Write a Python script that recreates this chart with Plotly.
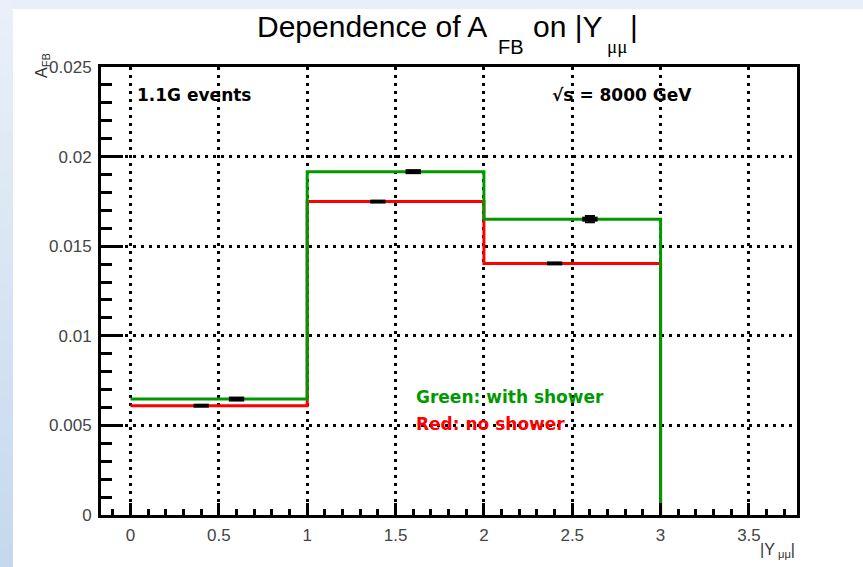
import plotly.graph_objects as go

# ---------------- data ----------------
bin_edges = [0, 1, 2, 3]
green_vals = [0.00647, 0.01916, 0.01651]      # with shower
red_vals = [0.00610, 0.01749, 0.01404]        # no shower
green_pt_x = [0.6, 1.6, 2.6]
green_pt_y = [0.00647, 0.01916, 0.01651]
green_pt_err = [0.00005, 0.00005, 0.00017]
red_pt_x = [0.4, 1.4, 2.4]
red_pt_y = [0.00610, 0.01749, 0.01404]
red_pt_err = [0.00003, 0.00003, 0.00003]
x_ticks = [0, 0.5, 1, 1.5, 2, 2.5, 3, 3.5]
x_tick_text = ["0", "0.5", "1", "1.5", "2", "2.5", "3", "3.5"]
y_ticks = [0, 0.005, 0.01, 0.015, 0.02, 0.025]
y_tick_text = ["0", "0.005", "0.01", "0.015", "0.02", "0.025"]

W, H = 863, 567
ML, MR, MT, MB = 101, 66, 67, 52
PW, PH = W - ML - MR, H - MT - MB


def px(xp):
    return (xp - ML) / PW


def py(yp):
    return (H - MB - yp) / PH


GREEN = "#009900"
RED = "#ff0000"

fig = go.Figure()

# step histograms (red below green)
fig.add_trace(go.Scatter(
    x=bin_edges, y=red_vals + [0], mode="lines", line_shape="hv",
    line=dict(color=RED, width=3), hoverinfo="skip", showlegend=False))
fig.add_trace(go.Scatter(
    x=bin_edges, y=green_vals + [0], mode="lines", line_shape="hv",
    line=dict(color=GREEN, width=3), hoverinfo="skip", showlegend=False))

# points with errors
fig.add_trace(go.Scatter(
    x=red_pt_x, y=red_pt_y, mode="markers",
    marker=dict(symbol="line-ew", size=11, color="black",
                line=dict(color="black", width=4)),
    error_y=dict(type="data", array=red_pt_err, color="black", thickness=2, width=0),
    hoverinfo="skip", showlegend=False))
fig.add_trace(go.Scatter(
    x=green_pt_x, y=green_pt_y, mode="markers",
    marker=dict(symbol="line-ew", size=11, color="black",
                line=dict(color="black", width=5)),
    error_y=dict(type="data", array=green_pt_err, color="black", thickness=2, width=5),
    hoverinfo="skip", showlegend=False))

tickfont = dict(family="Liberation Sans, Arial", size=17, color="#444444")

fig.update_xaxes(
    range=[-0.167, 3.772], tickmode="array", tickvals=x_ticks, ticktext=x_tick_text,
    ticks="inside", ticklen=12, tickwidth=3, tickcolor="black",
    minor=dict(ticks="inside", ticklen=6, tickwidth=3, tickcolor="black",
               dtick=0.1, tick0=0, showgrid=False),
    showgrid=True, gridcolor="black", gridwidth=2.5, griddash="3px,5px",
    showline=True, linecolor="black", linewidth=3, mirror=True,
    zeroline=False, tickfont=tickfont, ticklabelstandoff=3)
fig.update_yaxes(
    range=[0, 0.025], tickmode="array", tickvals=y_ticks, ticktext=y_tick_text,
    ticks="inside", ticklen=22, tickwidth=3, tickcolor="black",
    minor=dict(ticks="inside", ticklen=11, tickwidth=3, tickcolor="black",
               dtick=0.001, tick0=0, showgrid=False),
    showgrid=True, gridcolor="black", gridwidth=2.5, griddash="3px,5px",
    showline=True, linecolor="black", linewidth=3, mirror=True,
    zeroline=False, tickfont=tickfont, ticklabelstandoff=3)

# background bands (light blue frame of the page)
shapes = []
shapes.append(dict(type="rect", xref="paper", yref="paper",
                   x0=px(0), x1=px(W), y0=py(9), y1=py(0),
                   fillcolor="#e8eff8", line_width=0, layer="below"))
n = 30
c0 = (233, 240, 249)
c1 = (197, 217, 238)
for i in range(n):
    t = i / (n - 1)
    c = tuple(round(a + (b - a) * t) for a, b in zip(c0, c1))
    y0p = H * i / n
    y1p = H * (i + 1) / n + 1
    shapes.append(dict(type="rect", xref="paper", yref="paper",
                       x0=px(0), x1=px(13), y0=py(y1p), y1=py(y0p),
                       fillcolor="rgb(%d,%d,%d)" % c, line_width=0, layer="below"))

ann = []
TF = "Liberation Sans, Arial"
# title pieces
ann.append(dict(text="Dependence of A", x=px(255), y=py(26.5), xanchor="left", yanchor="middle",
                font=dict(family=TF, size=30, color="black")))
ann.append(dict(text="FB", x=px(496), y=py(47), xanchor="left", yanchor="middle",
                font=dict(family=TF, size=20, color="black")))
ann.append(dict(text="on |Y", x=px(531), y=py(26.5), xanchor="left", yanchor="middle",
                font=dict(family=TF, size=30, color="black")))
ann.append(dict(text="μμ", x=px(605), y=py(47), xanchor="left", yanchor="middle",
                font=dict(family="Liberation Serif, Times New Roman", size=19, color="black")))
ann.append(dict(text="|", x=px(628), y=py(26.5), xanchor="left", yanchor="middle",
                font=dict(family=TF, size=30, color="black")))
# axis titles
ann.append(dict(text="A<sub>FB</sub>", x=px(42), y=py(66), xanchor="center", yanchor="middle",
                textangle=-90, font=dict(family=TF, size=16, color="#333333")))
ann.append(dict(text="|Y<sub> μμ</sub>|", x=px(797), y=py(550), xanchor="right", yanchor="middle",
                font=dict(family=TF, size=16, color="#333333")))
# in-plot labels
LF = "DejaVu Sans"
ann.append(dict(text="<b>1.1G events</b>", x=px(135), y=py(95), xanchor="left", yanchor="middle",
                font=dict(family=LF, size=17, color="black")))
ann.append(dict(text="<b>√s = 8000 GeV</b>", x=px(550), y=py(95), xanchor="left", yanchor="middle",
                font=dict(family=LF, size=17, color="black")))
ann.append(dict(text="<b>Green: with shower</b>", x=px(414), y=py(397), xanchor="left", yanchor="middle",
                font=dict(family=LF, size=17, color=GREEN)))
ann.append(dict(text="<b>Red: no shower</b>", x=px(414), y=py(424), xanchor="left", yanchor="middle",
                font=dict(family=LF, size=17, color=RED)))
for a in ann:
    a.update(xref="paper", yref="paper", showarrow=False)

fig.update_layout(
    width=W, height=H, margin=dict(l=ML, r=MR, t=MT, b=MB),
    paper_bgcolor="white", plot_bgcolor="white",
    shapes=shapes, annotations=ann, showlegend=False, hovermode=False)

fig.write_html("out.html", config={"displayModeBar": False})
